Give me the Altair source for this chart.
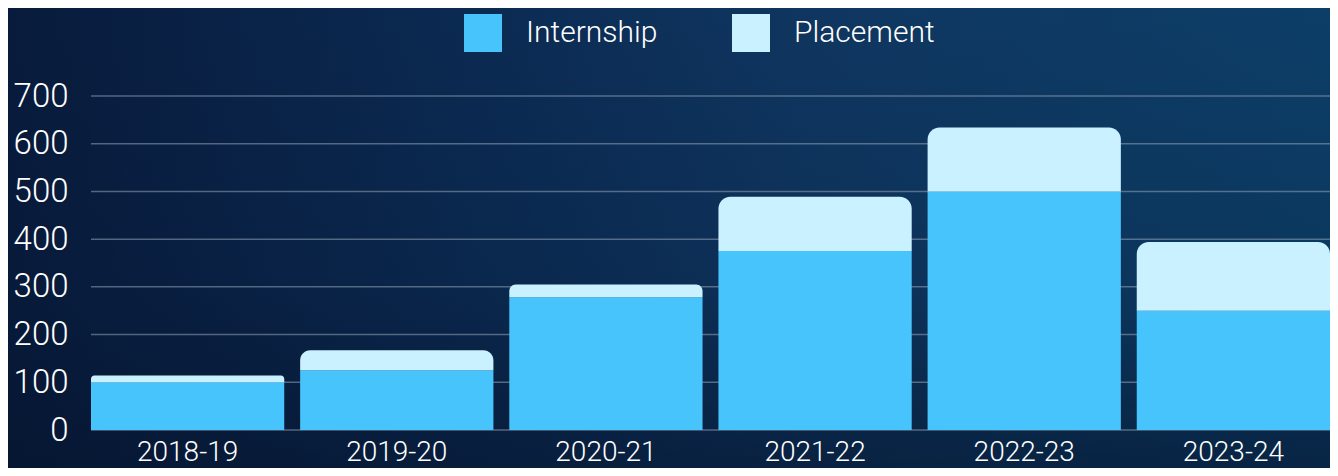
import altair as alt
import pandas as pd

years = ["2018-19", "2019-20", "2020-21", "2021-22", "2022-23", "2023-24"]
internship = [100, 125, 278, 375, 500, 250]
placement = [14, 42, 27, 114, 134, 144]

series_names = ["Internship", "Placement"]
series_colors = ["#48C4FC", "#CAF1FF"]
y_ticks = [0, 100, 200, 300, 400, 500, 600, 700]

df = pd.DataFrame({"year": years, "internship": internship, "placement": placement})
ticks_df = pd.DataFrame({"v": y_ticks})

W, H = 1239, 334
PAD_L, PAD_T, PAD_B = 83, 88, 38
FONT = "Roboto"

bg = alt.Chart(alt.Data(values=[{"a": 1}])).mark_rect(
    color=alt.LinearGradient(
        gradient="linear", x1=0, y1=0, x2=1, y2=0,
        stops=[
            alt.GradientStop(color="#081b3c", offset=0),
            alt.GradientStop(color="#0b2a52", offset=0.35),
            alt.GradientStop(color="#0f3660", offset=0.6),
            alt.GradientStop(color="#0c3e67", offset=1),
        ],
    )
).encode(
    x=alt.value(-PAD_L), x2=alt.value(W + 10),
    y=alt.value(-PAD_T), y2=alt.value(H + PAD_B),
)

shade = alt.Chart(alt.Data(values=[{"a": 1}])).mark_rect(
    color=alt.LinearGradient(
        gradient="linear", x1=0, y1=0, x2=0, y2=1,
        stops=[
            alt.GradientStop(color="rgba(5,20,45,0)", offset=0),
            alt.GradientStop(color="rgba(5,20,45,0.15)", offset=0.6),
            alt.GradientStop(color="rgba(5,20,45,0.6)", offset=1),
        ],
    )
).encode(
    x=alt.value(-PAD_L), x2=alt.value(W + 10),
    y=alt.value(-PAD_T), y2=alt.value(H + PAD_B),
)

y_scale = alt.Scale(domain=[0, 700], nice=False)
y_axis = alt.Axis(values=y_ticks, ticks=False, domain=False, grid=False,
                  labelFontSize=33, labelPadding=23, labelColor="white",
                  labelFont=FONT, labelFontWeight=300, zindex=2)

grid = alt.Chart(ticks_df).mark_rule(color="#8fa3b8", opacity=0.55, strokeWidth=1.5).encode(
    y=alt.Y("v:Q", title=None, scale=y_scale, axis=y_axis),
)

x_enc = alt.X(
    "year:N", sort=years, title=None,
    scale=alt.Scale(paddingInner=0.076, paddingOuter=0),
    axis=alt.Axis(labelAngle=0, ticks=False, domain=False, grid=False,
                  labelFontSize=28, labelPadding=8, labelColor="white",
                  labelFont=FONT, labelFontWeight=300, zindex=2),
)
color_enc = alt.Color(
    "series:N", title=None,
    scale=alt.Scale(domain=series_names, range=series_colors),
    legend=alt.Legend(orient="none", legendX=373, legendY=-82, direction="horizontal",
                      symbolType="square", symbolSize=1444, symbolStrokeWidth=0,
                      symbolOpacity=1, labelFontSize=30, labelColor="white",
                      labelFont=FONT, labelFontWeight=300, labelOffset=24,
                      columnPadding=74, padding=0, zindex=2),
)

base = alt.Chart(df)

intern_bar = base.transform_calculate(series="'Internship'", y0="0").mark_bar().encode(
    x=x_enc,
    y=alt.Y("internship:Q", title=None, scale=y_scale, axis=y_axis),
    y2=alt.Y2("y0:Q"),
    color=color_enc,
)

place_bar = base.transform_calculate(
    series="'Placement'", top="datum.internship + datum.placement"
).mark_bar(cornerRadiusTopLeft=12, cornerRadiusTopRight=12).encode(
    x=x_enc,
    y=alt.Y("top:Q", title=None, scale=y_scale, axis=y_axis),
    y2=alt.Y2("internship:Q"),
    color=color_enc,
)

chart = alt.layer(bg, shade, grid, intern_bar, place_bar).properties(
    width=W, height=H,
    autosize=alt.AutoSizeParams(type="none"),
    padding={"left": PAD_L, "top": PAD_T, "right": 0, "bottom": PAD_B},
    background="#0a2548",
).configure_view(stroke=None)

chart.save("out.html", embed_options={"renderer": "svg", "actions": False})
